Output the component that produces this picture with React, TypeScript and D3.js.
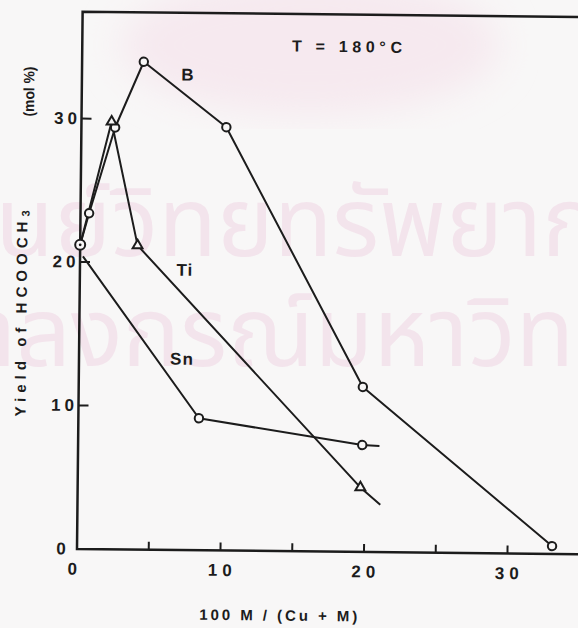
import * as d3 from "d3";
import { useEffect, useRef } from "react";

// B series (circles)
const bX = [0, 0.6, 2.35, 4.3, 10.1, 19.8, 33.1];
const bY = [21.2, 23.4, 29.4, 34.0, 29.5, 11.5, 0.55];
const bMarks = ["dot", "o", "o", "o", "o", "o", "o"];

// Ti series (triangles), last point is the line tail
const tiX = [0, 2.1, 4.0, 19.7, 21.1];
const tiY = [21.2, 29.8, 21.2, 4.5, 3.3];
const tiMarks = ["", "^", "^", "^", ""];

// Sn series (circles)
const snX = [0.2, 8.4, 19.8, 21.0];
const snY = [20.4, 9.2, 7.45, 7.4];
const snMarks = ["", "o", "o", ""];

const xTickValues = [5, 10, 15, 20, 25, 30, 35];
const xTickLabels = [0, 10, 20, 30];
const yTickValues = [10, 20, 30];
const yTickLabels = [0, 10, 20, 30];

const W = 578;
const H = 628;
const X0 = 77;
const Y0 = 549;
const UNIT = 14.35;
const BG = "#f8f7f7";
const INK = "#1c1c1c";
const FONT = "'Liberation Sans', Arial, sans-serif";

export default function App() {
  const ref = useRef<SVGSVGElement>(null);

  useEffect(() => {
    if (!ref.current) return;
    const svg = d3.select(ref.current);
    svg.selectAll("*").remove();

    const x = d3.scaleLinear().domain([0, 36]).range([X0, X0 + 36 * UNIT]);
    const y = d3.scaleLinear().domain([0, 37.44]).range([Y0, Y0 - 37.44 * UNIT]);

    svg.append("rect").attr("width", W).attr("height", H).attr("fill", BG);

    // faint emblem + watermark of the scanned page
    const defs = svg.append("defs");
    defs.append("filter").attr("id", "soft").append("feGaussianBlur").attr("stdDeviation", 18);
    svg.append("ellipse")
      .attr("cx", 310).attr("cy", 45).attr("rx", 190).attr("ry", 70)
      .attr("fill", "#f6e9ef").attr("filter", "url(#soft)");

    const wm = svg.append("g").attr("fill", "#f3e4ec").attr("font-family", "'Noto Sans Thai', 'Noto Sans', 'DejaVu Sans', sans-serif").attr("font-size", 96);
    wm.append("text").attr("x", -65).attr("y", 256).text("ศูนย์วิทยทรัพยากร");
    wm.append("text").attr("x", -138).attr("y", 366).text("จุฬาลงกรณ์มหาวิทยาลัย");

    // whole scan is tilted slightly
    const g = svg.append("g").attr("transform", `rotate(0.6, ${X0}, ${Y0})`);

    g.append("path")
      .attr("d", `M${x(36)},${y(37.44)}H${X0}V${Y0}H${x(36)}`)
      .attr("fill", "none")
      .attr("stroke", INK)
      .attr("stroke-width", 2.5);

    g.selectAll("line.xt")
      .data(xTickValues)
      .enter()
      .append("line")
      .attr("x1", (d) => x(d))
      .attr("x2", (d) => x(d))
      .attr("y1", Y0)
      .attr("y2", Y0 - 8)
      .attr("stroke", INK)
      .attr("stroke-width", 2);

    g.selectAll("line.yt")
      .data(yTickValues)
      .enter()
      .append("line")
      .attr("x1", X0)
      .attr("x2", X0 + 10)
      .attr("y1", (d) => y(d))
      .attr("y2", (d) => y(d))
      .attr("stroke", INK)
      .attr("stroke-width", 2);

    const txt = g.append("g").attr("font-family", FONT).attr("font-weight", "bold").attr("fill", INK);

    txt.selectAll("text.xl")
      .data(xTickLabels)
      .enter()
      .append("text")
      .attr("x", (d) => x(d) + (d === 0 ? -4 : 0) + 2)
      .attr("y", Y0 + 20)
      .attr("text-anchor", "middle")
      .attr("dominant-baseline", "central")
      .attr("font-size", 17)
      .attr("letter-spacing", 5)
      .text((d) => d);

    txt.selectAll("text.yl")
      .data(yTickLabels)
      .enter()
      .append("text")
      .attr("x", X0 - 16 + 2)
      .attr("y", (d) => y(d))
      .attr("text-anchor", "middle")
      .attr("dominant-baseline", "central")
      .attr("font-size", 17)
      .attr("letter-spacing", 4)
      .text((d) => d);

    txt.append("text")
      .attr("x", 279)
      .attr("y", 613)
      .attr("text-anchor", "middle")
      .attr("dominant-baseline", "central")
      .attr("font-size", 15)
      .attr("textLength", 158)
      .attr("lengthAdjust", "spacing")
      .text("100 M / (Cu + M)");

    const yl1 = txt.append("text")
      .attr("transform", "translate(18,314) rotate(-90)")
      .attr("text-anchor", "middle")
      .attr("dominant-baseline", "central")
      .attr("font-size", 15)
      .attr("textLength", 206)
      .attr("lengthAdjust", "spacing");
    yl1.append("tspan").text("Yield of HCOOCH");
    yl1.append("tspan").attr("dy", 4).attr("font-size", 11).text("3");

    txt.append("text")
      .attr("transform", "translate(24,92) rotate(-90)")
      .attr("text-anchor", "middle")
      .attr("dominant-baseline", "central")
      .attr("font-size", 15)
      .attr("textLength", 50)
      .attr("lengthAdjust", "spacingAndGlyphs")
      .text("(mol %)");

    txt.append("text")
      .attr("x", x(18.45))
      .attr("y", y(35.2))
      .attr("text-anchor", "middle")
      .attr("dominant-baseline", "central")
      .attr("font-size", 16)
      .attr("textLength", 110)
      .attr("lengthAdjust", "spacing")
      .text("T = 180°C");

    const seriesLabels = [
      { name: "B", lx: 7.39, ly: 33.1 },
      { name: "Ti", lx: 7.32, ly: 19.5 },
      { name: "Sn", lx: 7.18, ly: 13.3 },
    ];
    txt.selectAll("text.sl")
      .data(seriesLabels)
      .enter()
      .append("text")
      .attr("x", (d) => x(d.lx))
      .attr("y", (d) => y(d.ly))
      .attr("text-anchor", "middle")
      .attr("dominant-baseline", "central")
      .attr("font-size", 17)
      .attr("letter-spacing", 1)
      .text((d) => d.name);

    const series = [
      { xs: bX, ys: bY, marks: bMarks },
      { xs: tiX, ys: tiY, marks: tiMarks },
      { xs: snX, ys: snY, marks: snMarks },
    ];

    const line = d3
      .line<[number, number]>()
      .x((d) => x(d[0]))
      .y((d) => y(d[1]));

    series.forEach((s) => {
      g.append("path")
        .datum(s.xs.map((v, i) => [v, s.ys[i]] as [number, number]))
        .attr("d", line)
        .attr("fill", "none")
        .attr("stroke", INK)
        .attr("stroke-width", 2)
        .attr("stroke-linejoin", "round");
    });

    const tri = d3.symbol().type(d3.symbolTriangle).size(42)();

    series.forEach((s) => {
      s.xs.forEach((v, i) => {
        const m = s.marks[i];
        const cx = x(v);
        const cy = y(s.ys[i]);
        if (m === "o" || m === "dot") {
          g.append("circle")
            .attr("cx", cx)
            .attr("cy", cy)
            .attr("r", m === "dot" ? 5 : 4.2)
            .attr("fill", BG)
            .attr("stroke", INK)
            .attr("stroke-width", 2);
          if (m === "dot") {
            g.append("circle").attr("cx", cx).attr("cy", cy).attr("r", 1.4).attr("fill", INK);
          }
        } else if (m === "^") {
          g.append("path")
            .attr("d", tri)
            .attr("transform", `translate(${cx},${cy})`)
            .attr("fill", BG)
            .attr("stroke", INK)
            .attr("stroke-width", 2);
        }
      });
    });
  }, []);

  return (
    <svg
      ref={ref}
      width={W}
      height={H}
      style={{ position: "absolute", left: 0, top: 0, display: "block" }}
    />
  );
}
